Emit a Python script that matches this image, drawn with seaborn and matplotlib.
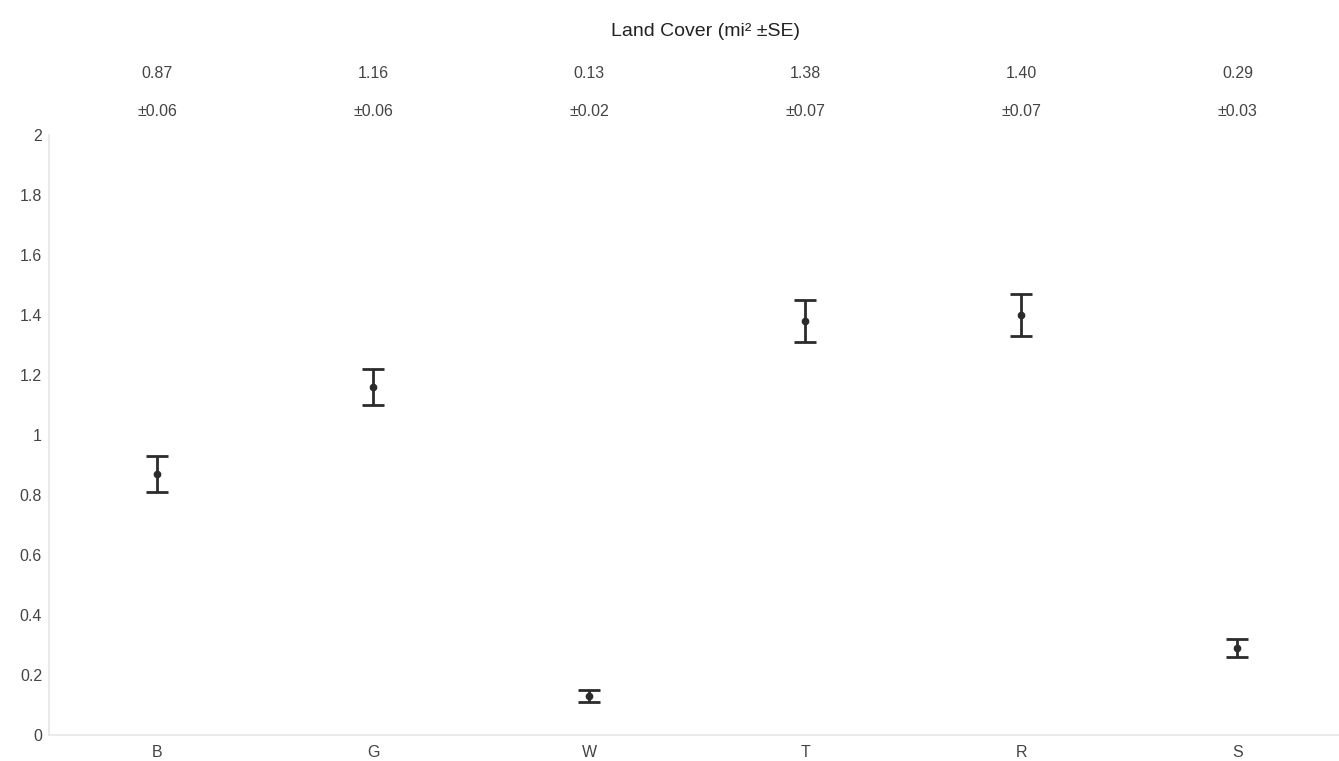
import numpy as np
import pandas as pd
import matplotlib
matplotlib.use("Agg")
import matplotlib.pyplot as plt
import seaborn as sns

# Land cover categories with mean area (mi^2) and standard error
categories = ["B", "G", "W", "T", "R", "S"]
means = [0.87, 1.16, 0.13, 1.38, 1.40, 0.29]
errors = [0.06, 0.06, 0.02, 0.07, 0.07, 0.03]
y_ticks = [0, 0.2, 0.4, 0.6, 0.8, 1, 1.2, 1.4, 1.6, 1.8, 2]
y_tick_labels = ["0", "0.2", "0.4", "0.6", "0.8", "1", "1.2", "1.4", "1.6", "1.8", "2"]

df = pd.DataFrame({"cover": categories, "area": means, "se": errors})

sns.set_theme(style="white")
plt.rcParams["font.family"] = ["Liberation Sans", "DejaVu Sans"]

fig = plt.figure(figsize=(13.39, 7.61), dpi=100)
ax = fig.add_axes([0.0366, 0.034, 0.9634, 0.789])

ink = "#2b2b2b"

# Error bars (mean +/- SE)
ax.errorbar(
    x=np.arange(len(df)),
    y=df["area"],
    yerr=df["se"],
    fmt="none",
    ecolor=ink,
    elinewidth=2.0,
    capsize=8,
    capthick=2.0,
    zorder=2,
)

# Mean points
sns.pointplot(
    data=df,
    x="cover",
    y="area",
    order=categories,
    linestyle="none",
    errorbar=None,
    color=ink,
    markers="o",
    markersize=3.5,
    ax=ax,
    zorder=3,
)

ax.set_xlim(-0.5, 5.47)
ax.set_ylim(0, 2)
ax.set_yticks(y_ticks)
ax.set_yticklabels(y_tick_labels)
ax.set_xlabel("")
ax.set_ylabel("")

for side in ["top", "right"]:
    ax.spines[side].set_visible(False)
for side in ["left", "bottom"]:
    ax.spines[side].set_color("#e6e6e6")
    ax.spines[side].set_linewidth(1.2)

ax.tick_params(axis="both", colors="#cccccc", labelcolor="#444444",
               labelsize=11.5, length=3, width=0.8, direction="out", pad=4)
ax.tick_params(axis="y", pad=2)

# Header: title and per-category mean / SE text
fig.text(0.527, 0.958, "Land Cover (mi² ±SE)", ha="center", va="center",
         fontsize=14, color="#222222")
for i, (m, s) in enumerate(zip(means, errors)):
    xf = ax.transData.transform((i, 0))[0] / fig.bbox.width
    fig.text(xf, 0.904, f"{m:.2f}", ha="center", va="center",
             fontsize=11.5, color="#444444")
    fig.text(xf, 0.854, f"±{s:.2f}", ha="center", va="center",
             fontsize=11.5, color="#444444")

fig.savefig("out.png", dpi=100)
plt.close(fig)
